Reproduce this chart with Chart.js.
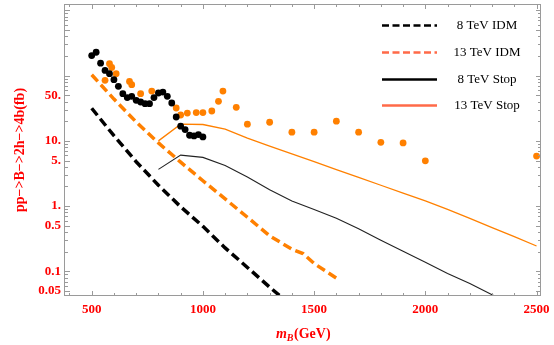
<!DOCTYPE html>
<html>
<head>
<meta charset="utf-8">
<script src="https://cdn.jsdelivr.net/npm/chart.js@4"></script>
<style>
  body { margin: 0; background: #fff; }
  canvas { display: block; }
</style>
</head>
<body>
<canvas id="chart" width="554" height="345"></canvas>
<script>
// scan points (black / orange dots)
const blackDotMass = [500, 520, 540, 560, 580, 600, 620, 640, 660, 680, 700, 720, 740, 760, 780, 800, 820, 840, 860, 880, 900, 920, 940, 960, 980, 1000];
const blackDotXsec = [203, 228, 155, 120, 107, 86.5, 68.4, 52.9, 46, 48.1, 41.8, 39.4, 37.2, 37.2, 46, 54.1, 56, 48.1, 38, 23.2, 16.8, 14.9, 12.2, 11.9, 12.5, 11.5];
const orangeDotMass = [560, 580, 590, 610, 670, 680, 720, 770, 880, 900, 930, 970, 1000, 1040, 1070, 1090, 1150, 1200, 1300, 1400, 1500, 1600, 1700, 1800, 1900, 2000, 2500];
const orangeDotXsec = [84.5, 152, 133, 107, 81.5, 72.6, 52.9, 58, 31.9, 24.9, 26.7, 27.1, 27.1, 28.7, 40.4, 58, 32.7, 18, 19.3, 13.6, 13.6, 20, 13.6, 9.5, 9.3, 4.95, 5.84];

// IDM curves
const idm8Mass = [500, 600, 700, 800, 900, 1000, 1100, 1200, 1300, 1400];
const idm8Xsec = [31.6, 12.0, 4.79, 2.09, 0.977, 0.49, 0.229, 0.115, 0.0575, 0.0295];
const idm13Mass = [500, 600, 700, 800, 900, 1000, 1100, 1200, 1300, 1400, 1450, 1500, 1600];
const idm13Xsec = [103, 43.7, 19.5, 9.3, 4.72, 2.45, 1.29, 0.676, 0.351, 0.219, 0.188, 0.132, 0.079];

// Stop curves
const stopMass = [800, 900, 1000, 1100, 1200, 1300, 1400, 1500, 1600, 1700, 1800, 1900, 2000, 2100, 2200, 2300, 2400, 2500];
const stop8Xsec = [3.66, 6.05, 5.58, 4.2, 2.8, 1.78, 1.2, 0.89, 0.65, 0.45, 0.30, 0.204, 0.138, 0.093, 0.065, 0.044, 0.030, 0.021];
const stop13Xsec = [10, 18, 17.8, 15.1, 11.0, 8.3, 6.3, 4.8, 3.63, 2.75, 2.09, 1.58, 1.20, 0.89, 0.65, 0.47, 0.34, 0.245];

const seriesLabels = ["8 TeV IDM", "13 TeV IDM", "8 TeV Stop", "13 TeV Stop"];

const xTickValues = [400, 500, 600, 700, 800, 900, 1000, 1100, 1200, 1300, 1400, 1500, 1600, 1700, 1800, 1900, 2000, 2100, 2200, 2300, 2400, 2500];
const xTickLabels = { 500: "500", 1000: "1000", 1500: "1500", 2000: "2000", 2500: "2500" };
const yTickValues = [0.05, 0.06, 0.07, 0.08, 0.09, 0.1, 0.2, 0.3, 0.4, 0.5, 0.6, 0.7, 0.8, 0.9, 1, 2, 3, 4, 5, 6, 7, 8, 9, 10, 20, 30, 40, 50, 60, 70, 80, 90, 100, 200, 300, 400, 500, 600, 700, 800, 900, 1000];
const yTickLabels = { 0.05: "0.05", 0.1: "0.1", 0.5: "0.5", 1: "1.", 5: "5.", 10: "10.", 50: "50." };
const yMajor = [0.05, 0.1, 0.5, 1, 5, 10, 50, 100, 500, 1000];

const pts = (xs, ys) => xs.map((x, i) => ({ x: x, y: ys[i] }));

const RED = "#ff0000";
const ORANGE = "#ff8000";
const LEGEND_ORANGE = "#ff6a48";

const frameAndText = {
  id: "frameAndText",
  afterDraw(chart) {
    const { ctx, chartArea: a, scales } = chart;
    const x = scales.x, y = scales.y;
    ctx.save();
    ctx.strokeStyle = "#9a9a9a";
    ctx.lineWidth = 1;
    ctx.strokeRect(a.left - 0.5, a.top + 0.5, a.right - a.left, a.bottom - a.top - 1);

    ctx.beginPath();
    x.ticks.forEach(t => {
      const px = Math.round(x.getPixelForValue(t.value)) + 0.5;
      if (px < a.left || px > a.right) return;
      const len = xTickLabels[t.value] ? 5 : 3;
      ctx.moveTo(px, a.bottom); ctx.lineTo(px, a.bottom - len);
      ctx.moveTo(px, a.top); ctx.lineTo(px, a.top + len);
    });
    y.ticks.forEach(t => {
      const py = Math.round(y.getPixelForValue(t.value)) + 0.5;
      if (py < a.top || py > a.bottom) return;
      const len = yMajor.includes(t.value) ? 5 : 3;
      ctx.moveTo(a.left, py); ctx.lineTo(a.left + len, py);
      ctx.moveTo(a.right, py); ctx.lineTo(a.right - len, py);
    });
    ctx.stroke();

    // y title
    ctx.fillStyle = RED;
    ctx.font = "bold 14px 'Liberation Serif', serif";
    ctx.textAlign = "center";
    ctx.textBaseline = "middle";
    ctx.save();
    ctx.translate(20, (a.top + a.bottom) / 2);
    ctx.rotate(-Math.PI / 2);
    ctx.fillText("pp\u2212>B\u2212>2h\u2212>4b(fb)", 0, 0);
    ctx.restore();

    // x title m_B(GeV)
    const cx = (a.left + a.right) / 2, ty = 333;
    const fm = "italic bold 14px 'Liberation Serif', serif";
    const fb = "italic bold 10px 'Liberation Serif', serif";
    const fr = "bold 14px 'Liberation Serif', serif";
    ctx.textAlign = "left";
    ctx.textBaseline = "alphabetic";
    ctx.font = fm; const wm = ctx.measureText("m").width;
    ctx.font = fb; const wb = ctx.measureText("B").width;
    ctx.font = fr; const wr = ctx.measureText("(GeV)").width;
    let sx = cx - (wm + wb + wr) / 2;
    const base = ty + 5;
    ctx.font = fm; ctx.fillText("m", sx, base); sx += wm;
    ctx.font = fb; ctx.fillText("B", sx, base + 3); sx += wb + 0.5;
    ctx.font = fr; ctx.fillText("(GeV)", sx, base);

    // legend
    const legendRows = [25, 52, 79, 105];
    ctx.font = "13px 'Liberation Serif', serif";
    ctx.textAlign = "center";
    ctx.textBaseline = "middle";
    chart.data.datasets.filter(d => d.legendColor).forEach((d, i) => {
      const ly = legendRows[i] + 0.5;
      ctx.strokeStyle = d.legendColor;
      ctx.lineWidth = 2.5;
      ctx.setLineDash(d.borderDash && d.borderDash.length ? [7, 3.5] : []);
      ctx.beginPath();
      ctx.moveTo(382, ly); ctx.lineTo(437, ly);
      ctx.stroke();
      ctx.setLineDash([]);
      ctx.fillStyle = "#000";
      ctx.fillText(d.label, 487, ly);
    });
    ctx.restore();
  }
};

new Chart(document.getElementById("chart"), {
  type: "scatter",
  data: {
    datasets: [
      {
        label: "black points",
        data: pts(blackDotMass, blackDotXsec),
        backgroundColor: "#000",
        borderWidth: 0,
        pointRadius: 3.4,
        showLine: false
      },
      {
        label: "orange points",
        data: pts(orangeDotMass, orangeDotXsec),
        backgroundColor: ORANGE,
        borderWidth: 0,
        pointRadius: 3.4,
        showLine: false
      },
      {
        label: seriesLabels[0],
        data: pts(idm8Mass, idm8Xsec),
        showLine: true,
        borderColor: "#000",
        borderWidth: 3.5,
        borderDash: [9, 4.5],
        pointRadius: 0,
        legendColor: "#000"
      },
      {
        label: seriesLabels[1],
        data: pts(idm13Mass, idm13Xsec),
        showLine: true,
        borderColor: ORANGE,
        borderWidth: 3.5,
        borderDash: [9, 4.5],
        pointRadius: 0,
        legendColor: LEGEND_ORANGE
      },
      {
        label: seriesLabels[2],
        data: pts(stopMass, stop8Xsec),
        showLine: true,
        borderColor: "#222",
        borderWidth: 1.1,
        pointRadius: 0,
        legendColor: "#000"
      },
      {
        label: seriesLabels[3],
        data: pts(stopMass, stop13Xsec),
        showLine: true,
        borderColor: ORANGE,
        borderWidth: 1.3,
        pointRadius: 0,
        legendColor: LEGEND_ORANGE
      }
    ]
  },
  options: {
    responsive: false,
    animation: false,
    devicePixelRatio: 1,
    layout: { padding: { top: 3, right: 13, left: 0, bottom: 0 } },
    plugins: {
      legend: { display: false },
      tooltip: { enabled: false }
    },
    scales: {
      x: {
        type: "linear",
        min: 380,
        max: 2520,
        grid: { display: false, drawTicks: false },
        border: { display: false },
        afterBuildTicks: (scale) => { scale.ticks = xTickValues.map(v => ({ value: v })); },
        afterFit: (scale) => {
          scale.height = 49;
          scale.paddingLeft = 0;
          scale.paddingRight = 0;
        },
        ticks: {
          autoSkip: false,
          maxRotation: 0,
          padding: 6,
          color: RED,
          font: { family: "'Liberation Serif', serif", size: 13, weight: "bold" },
          callback: (v) => xTickLabels[v] || ""
        }
      },
      y: {
        type: "logarithmic",
        min: 0.042,
        max: 1250,
        grid: { display: false, drawTicks: false },
        border: { display: false },
        afterBuildTicks: (scale) => { scale.ticks = yTickValues.map(v => ({ value: v })); },
        afterFit: (scale) => {
          scale.width = 65;
          scale.paddingTop = 0;
          scale.paddingBottom = 0;
        },
        ticks: {
          autoSkip: false,
          padding: 4,
          color: RED,
          font: { family: "'Liberation Serif', serif", size: 13, weight: "bold" },
          callback: (v) => yTickLabels[v] || ""
        }
      }
    }
  },
  plugins: [frameAndText]
});
</script>
</body>
</html>
